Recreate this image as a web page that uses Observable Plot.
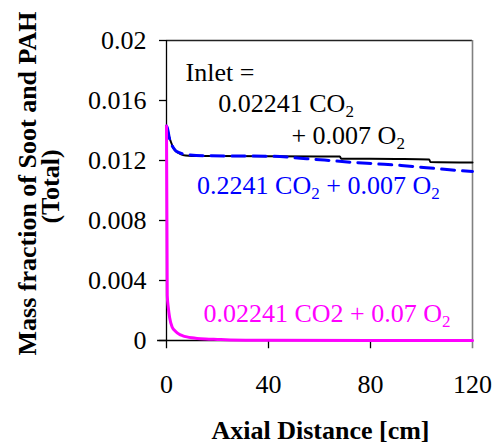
<!DOCTYPE html>
<html>
<head>
<meta charset="utf-8">
<script src="https://cdn.jsdelivr.net/npm/d3@7"></script>
<script src="https://cdn.jsdelivr.net/npm/@observablehq/plot@0.6"></script>
<style>
  html, body { margin: 0; padding: 0; background: #fff; }
  #chart { width: 494px; height: 444px; }
  #chart svg, #chart svg text, #chart svg tspan { font-family: "Liberation Serif", "Times New Roman", Times, serif !important; }
</style>
</head>
<body>
<div id="chart"></div>
<script>
// ---- data ----
const xTicks = [0, 40, 80, 120];
const yTicks = [0, 0.004, 0.008, 0.012, 0.016, 0.02];
const yTickLabels = ["0", "0.004", "0.008", "0.012", "0.016", "0.02"];

// Inlet = 0.02241 CO2 + 0.007 O2 (black, solid)
const blackX = [0, 0.4, 1, 1.6, 2.9, 4.2, 5.5, 7.5, 10, 20, 40, 60, 68, 68.5, 90, 103, 103.5, 120];
const blackY = [0.0142, 0.0141, 0.0136, 0.0133, 0.01278, 0.01255, 0.01243, 0.01233, 0.0123, 0.0123, 0.01229, 0.01227, 0.01226, 0.01212, 0.0121, 0.01207, 0.0119, 0.01186];

// 0.2241 CO2 + 0.007 O2 (blue, dashed)
const blueX = [0, 0.3, 1, 1.6, 2.5, 3.5, 5, 6.2, 8.7, 15, 30, 42, 52.5, 62, 72, 82, 92, 102, 111, 120];
const blueY = [0.0143, 0.0142, 0.0136, 0.0132, 0.0129, 0.01267, 0.01252, 0.01245, 0.01238, 0.01232, 0.0123, 0.01228, 0.01215, 0.01203, 0.01189, 0.01178, 0.01167, 0.01152, 0.01138, 0.01127];

// 0.02241 CO2 + 0.07 O2 (magenta)
const magX = [0, 0.3, 0.7, 1.2, 2.2, 3.5, 5, 6.2, 8, 10, 12, 15.3, 20, 25, 31, 40, 80, 120];
const magY = [0.0143, 0.0030, 0.0022, 0.00155, 0.0009, 0.00062, 0.00042, 0.00033, 0.00024, 0.00018, 0.00014, 0.0001, 0.00007, 0.00004, 0.00002, 0.00001, 0, 0];

// annotations (anchored in data units)
const annText = ["Inlet =", "0.02241 CO₂", "+ 0.007 O₂", "0.2241 CO₂ + 0.007 O₂", "0.02241 CO2 + 0.07 O₂"];
const annX = [7.45, 20.3, 49.0, 12.0, 14.5];
const annY = [0.01784, 0.01577, 0.01367, 0.01029, 0.00182];
const annColor = ["#000000", "#000000", "#000000", "#0000ff", "#ff00ff"];

const xLabel = "Axial Distance [cm]";
const yLabel1 = "Mass fraction of Soot and PAH";
const yLabel2 = "(Total)";

// ---- build tables ----
const toRows = (xs, ys) => xs.map((x, i) => ({x, y: ys[i]}));
const black = toRows(blackX, blackY);
const blue = toRows(blueX, blueY);
const mag = toRows(magX, magY);
const ann = annText.map((t, i) => ({t, x: annX[i], y: annY[i], c: annColor[i]}));

const FONT = "Liberation Serif";

const chart = Plot.plot({
  width: 494,
  height: 444,
  marginLeft: 166,
  marginRight: 22,
  marginTop: 40,
  marginBottom: 104,
  x: {domain: [0, 120]},
  y: {domain: [0, 0.02]},
  style: {fontFamily: FONT, fontSize: "26px", color: "#000", background: "#fff"},
  marks: [
    // frame
    Plot.ruleY([0.02], {x1: 0, x2: 120, stroke: "#222", strokeWidth: 1.3}),
    Plot.ruleX([120], {y1: -0.00055, y2: 0.02, stroke: "#808080", strokeWidth: 1.6}),
    Plot.ruleY([0], {x1: -3.5, x2: 120, stroke: "#000", strokeWidth: 1.3}),
    Plot.ruleX([0], {y1: -0.00055, y2: 0.02, stroke: "#000", strokeWidth: 1.3}),
    // axes
    Plot.axisY({ticks: yTicks, tickSize: 7, tickPadding: 13, tickFormat: d => yTickLabels[yTicks.indexOf(d)], label: null, stroke: "#000", strokeWidth: 1.3, fill: "#000", fontFamily: FONT}),
    Plot.ruleX(xTicks.filter(d => d > 0 && d < 120), {y1: 0, y2: -0.00055, stroke: "#000", strokeWidth: 1.3}),
    Plot.axisX({ticks: xTicks, tickSize: 0, tickPadding: 34.5, label: null, fill: "#000", fontFamily: FONT}),
    // series
    Plot.line(black, {x: "x", y: "y", stroke: "#000", strokeWidth: 2, curve: "monotone-x"}),
    Plot.line(blue, {x: "x", y: "y", stroke: "#0000ff", strokeWidth: 3, strokeDasharray: "13,8", curve: "monotone-x"}),
    Plot.line(mag, {x: "x", y: "y", stroke: "#ff00ff", strokeWidth: 3, curve: "monotone-x"}),
    // annotations
    Plot.text(ann, {x: "x", y: "y", text: "t", fill: "c", textAnchor: "start", lineAnchor: "middle", fontSize: 26, fontFamily: FONT}),
    // axis titles
    Plot.text([xLabel], {frameAnchor: "bottom", textAnchor: "middle", dx: 1, dy: 90, fontWeight: "bold", fontSize: 26, lineAnchor: "middle", fill: "#000", fontFamily: FONT}),
    Plot.text([yLabel1], {frameAnchor: "left", textAnchor: "middle", rotate: -90, dx: -139.3, dy: -7, fontWeight: "bold", fontSize: 26, lineAnchor: "middle", fill: "#000", fontFamily: FONT}),
    Plot.text([yLabel2], {frameAnchor: "left", textAnchor: "middle", rotate: -90, dx: -116.3, dy: -4, fontWeight: "bold", fontSize: 26, lineAnchor: "middle", fill: "#000", fontFamily: FONT})
  ]
});

// render "₂" as a real subscript tspan
const NS = "http://www.w3.org/2000/svg";
chart.querySelectorAll("text").forEach(el => {
  const nodes = el.querySelectorAll("tspan").length ? Array.from(el.querySelectorAll("tspan")) : [el];
  nodes.forEach(node => {
    const s = node.textContent;
    if (!s.includes("₂")) return;
    while (node.firstChild) node.removeChild(node.firstChild);
    const parts = s.split("₂");
    parts.forEach((p, i) => {
      if (i > 0) {
        const sub = document.createElementNS(NS, "tspan");
        sub.setAttribute("font-size", "17");
        sub.setAttribute("dy", "5");
        sub.textContent = "2";
        node.appendChild(sub);
        if (p.length) {
          const rest = document.createElementNS(NS, "tspan");
          rest.setAttribute("dy", "-5");
          rest.textContent = p;
          node.appendChild(rest);
        }
      } else if (p.length) {
        node.appendChild(document.createTextNode(p));
      }
    });
  });
});

document.getElementById("chart").appendChild(chart);
</script>
</body>
</html>
